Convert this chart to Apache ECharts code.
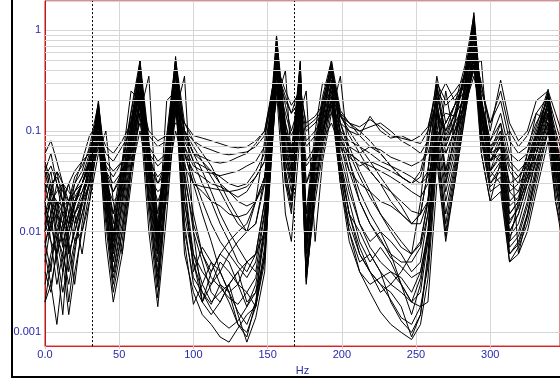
<!DOCTYPE html>
<html><head><meta charset="utf-8">
<script src="https://cdn.jsdelivr.net/npm/echarts@6/dist/echarts.min.js"></script>
<style>html,body{margin:0;padding:0;background:#fff}#c{width:560px;height:381px}</style>
</head><body><div id="c"></div>
<script>
const freqs = [0,4,8,12,16,20,25,30,36,41, 46,52,58,64,70,76,82,88,94,100, 106,112,118,124,130,136,142,148,156,162, 166,172,176,182,187,193,199,205,212,219, 226,233,240,247,253,258,264,270,276,283, 289,294,300,307,313,319,325,331,339,344, 350];

const s1 = [.012,.02,.008,.004,.01,.02,.03,.05,.2,.03, .005,.02,.09,.5,.05,.006,.06,.55,.03,.004, .007,.005,.003,.002,.0012,.0009,.002,.012,.9,.08, .04,.5,.006,.05,.15,.5,.08,.03,.012,.008, .01,.006,.003,.0015,.003,.01,.15,.04,.08,.3, 1.5,.2,.06,.05,.01,.015,.03,.08,.25,.05, .015];
const s2 = [.008,.004,.015,.03,.006,.01,.02,.04,.15,.02, .004,.015,.07,.35,.03,.004,.04,.45,.02,.006, .003,.002,.0025,.003,.0015,.0008,.0014,.004,.7,.05, .03,.3,.004,.04,.12,.4,.05,.015,.006,.004, .003,.0025,.0018,.0009,.0015,.006,.1,.02,.05,.25, 1.2,.15,.04,.03,.008,.01,.02,.06,.2,.04, .012];
const s3 = [.03,.015,.005,.0015,.008,.015,.025,.04,.12,.025, .007,.03,.12,.4,.06,.008,.07,.4,.06,.03, .015,.008,.004,.0025,.003,.005,.004,.015,.5,.06, .035,.25,.008,.06,.15,.35,.12,.07,.04,.025, .015,.01,.007,.006,.008,.02,.2,.06,.1,.25, .9,.12,.05,.08,.015,.02,.04,.09,.18,.06, .02];
const s4 = [.005,.012,.02,.008,.002,.006,.02,.05,.18,.04, .01,.04,.15,.45,.07,.01,.08,.5,.09,.05, .03,.02,.012,.008,.005,.004,.006,.02,.6,.1, .05,.35,.01,.07,.2,.45,.15,.09,.06,.04, .03,.02,.015,.012,.015,.04,.25,.08,.12,.35, 1.3,.18,.07,.1,.02,.025,.05,.1,.22,.07, .025];
const s5 = [.015,.01,.02,.012,.004,.008,.015,.03,.09,.015, .003,.01,.05,.25,.02,.003,.03,.3,.008,.0019, .003,.005,.004,.0025,.0012,.001,.0018,.006,.45,.04, .02,.2,.003,.03,.08,.3,.04,.01,.005,.006, .004,.002,.0013,.001,.0015,.005,.07,.012,.04,.18, .8,.1,.03,.04,.006,.008,.015,.04,.15,.03, .01];
const s6 = [.02,.008,.003,.006,.012,.025,.035,.06,.16,.03, .008,.025,.1,.3,.045,.007,.05,.35,.05,.015, .006,.004,.006,.005,.003,.0018,.003,.01,.55,.07, .04,.4,.007,.05,.13,.38,.1,.05,.025,.015, .01,.008,.006,.004,.005,.015,.18,.03,.07,.3, 1.0,.14,.05,.06,.012,.018,.035,.07,.2,.05, .018];
const s7 = [.04,.02,.01,.015,.02,.012,.02,.05,.17,.035, .009,.035,.11,.42,.055,.009,.06,.48,.1,.06, .04,.025,.015,.01,.007,.005,.006,.02,.75,.09, .045,.45,.009,.06,.17,.42,.14,.1,.07,.05, .035,.025,.018,.012,.015,.04,.3,.09,.15,.4, 1.1,.16,.06,.07,.015,.02,.04,.08,.23,.06, .02];
const s8 = [.01,.025,.04,.02,.008,.003,.012,.035,.1,.02, .005,.018,.08,.28,.035,.005,.035,.3,.015,.005, .0025,.0019,.003,.0025,.0016,.0012,.002,.007,.4,.05, .025,.22,.005,.035,.1,.28,.05,.02,.008,.005, .007,.005,.003,.002,.0025,.008,.08,.015,.045,.2, .7,.1,.035,.05,.009,.012,.025,.05,.14,.04, .012];
const s9 = [.006,.003,.0012,.004,.01,.018,.03,.045,.13,.025, .006,.022,.09,.33,.04,.006,.045,.38,.04,.01, .005,.0025,.002,.003,.004,.002,.0025,.009,.48,.06, .03,.28,.006,.045,.11,.32,.06,.025,.012,.007, .005,.004,.0035,.0025,.004,.01,.12,.025,.06,.22, .85,.12,.04,.055,.01,.015,.03,.06,.17,.045, .015];
const s10 = [.025,.04,.015,.007,.015,.03,.04,.07,.19,.045, .012,.045,.16,.5,.08,.012,.09,.52,.12,.08, .06,.045,.03,.02,.014,.01,.012,.03,.85,.12, .06,.48,.012,.08,.22,.5,.16,.12,.09,.07, .06,.045,.035,.03,.035,.07,.35,.12,.18,.45, 1.4,.2,.08,.12,.025,.03,.06,.11,.26,.08, .03];
const s11 = [.003,.006,.01,.005,.0015,.004,.01,.025,.08,.012, .0025,.008,.04,.2,.015,.0022,.025,.22,.006,.0025, .0015,.0012,.0009,.0008,.0011,.0015,.0018,.005,.3,.03, .015,.15,.0032,.025,.07,.22,.03,.01,.004,.0025, .0016,.0012,.001,.00085,.0012,.0034,.05,.008,.03,.15, .6,.08,.025,.03,.005,.007,.012,.03,.1,.025, .008];
const s12 = [.05,.03,.015,.01,.02,.035,.045,.065,.14,.04, .015,.05,.13,.38,.07,.015,.07,.42,.1,.07, .05,.035,.025,.017,.012,.01,.012,.035,.65,.1, .05,.38,.015,.07,.18,.36,.14,.11,.1,.08, .06,.045,.035,.03,.04,.08,.22,.1,.14,.35, 1.0,.17,.07,.09,.03,.035,.05,.09,.19,.07, .025];
const s13 = [.007,.015,.03,.015,.006,.01,.018,.03,.11,.018, .004,.012,.06,.22,.025,.0035,.03,.25,.012,.003, .002,.003,.005,.004,.003,.0025,.0018,.006,.35,.04, .02,.18,.004,.03,.09,.25,.045,.015,.007,.004, .0025,.003,.0025,.002,.0035,.008,.09,.01,.035,.17, .65,.09,.03,.045,.007,.009,.018,.045,.12,.035, .01];
const s14 = [.018,.012,.006,.0025,.005,.012,.02,.04,.14,.028, .0065,.028,.1,.36,.05,.0075,.05,.4,.035,.012, .006,.0035,.0028,.0022,.0019,.0025,.0035,.011,.55,.065, .035,.32,.0075,.05,.14,.4,.09,.04,.02,.012, .0085,.0055,.0045,.0035,.004,.009,.16,.035,.08,.28, 1.1,.14,.05,.07,.013,.017,.035,.07,.19,.05, .016];
const s15 = [.045,.025,.012,.008,.012,.02,.03,.055,.16,.035, .009,.035,.12,.44,.06,.01,.065,.46,.07,.035, .02,.012,.008,.006,.0045,.0035,.005,.016,.8,.1, .05,.42,.01,.065,.19,.46,.12,.06,.035,.022, .015,.011,.008,.006,.0075,.02,.28,.07,.13,.38, 1.2,.18,.065,.085,.018,.022,.045,.09,.24,.065, .022];
const s16 = [.002,.005,.009,.006,.003,.007,.015,.03,.1,.015, .0035,.01,.045,.18,.02,.0028,.028,.2,.01,.0035, .0025,.0017,.0013,.0011,.0013,.0018,.0025,.0055,.3,.035, .017,.16,.0035,.027,.075,.2,.035,.012,.006,.004, .003,.0021,.0014,.0012,.0018,.0045,.06,.009,.03,.14, .55,.085,.028,.035,.006,.0075,.014,.035,.11,.03, .009];
const m1 = [.002,.003,.006,.012,.02,.03,.05,.09,.12,.02, .008,.05,.25,.2,.02,.008,.2,.25,.03,.006, .004,.003,.004,.006,.008,.01,.02,.08,.5,.03, .02,.12,.015,.1,.3,.25,.04,.015,.01,.006, .004,.003,.004,.006,.02,.1,.2,.04,.12,.4, .8,.06,.02,.05,.008,.02,.06,.15,.12,.02, .008];
const m2 = [.015,.025,.04,.03,.015,.008,.01,.02,.06,.1, .02,.006,.03,.15,.35,.01,.02,.15,.35,.01, .002,.004,.006,.008,.01,.012,.02,.035,.2,.4, .05,.15,.25,.008,.05,.15,.35,.05,.02,.012, .008,.006,.005,.005,.007,.015,.05,.25,.08,.2, .45,.5,.04,.08,.1,.006,.015,.04,.1,.1, .02];
const m3 = [.035,.045,.03,.02,.012,.018,.03,.045,.09,.04, .025,.04,.07,.2,.06,.03,.05,.25,.1,.06, .05,.04,.03,.025,.02,.018,.02,.03,.3,.09, .06,.2,.03,.06,.1,.2,.08,.06,.05,.04, .03,.025,.02,.016,.015,.02,.08,.06,.1,.15, .45,.1,.04,.06,.025,.02,.03,.05,.1,.04, .015];
const m4 = [.004,.0025,.007,.02,.03,.015,.006,.02,.1,.008, .002,.006,.04,.15,.01,.0018,.015,.18,.02,.005, .002,.0015,.002,.003,.004,.005,.006,.01,.25,.015, .008,.1,.0035,.02,.06,.18,.03,.008,.004,.003, .0035,.004,.003,.002,.0018,.002,.03,.03,.1,.18, .5,.06,.02,.025,.005,.006,.01,.025,.08,.02, .006];
const h1 = [.06,.08,.05,.03,.02,.025,.035,.05,.1,.06, .05,.07,.1,.15,.09,.07,.08,.12,.1,.08, .07,.065,.06,.058,.06,.062,.07,.09,.35,.2, .15,.2,.1,.12,.15,.18,.12,.1,.09,.14, .1,.085,.09,.08,.075,.1,.3,.2,.25,.35, .6,.3,.1,.32,.12,.08,.1,.2,.25,.15, .08];
const h2 = [.02,.03,.035,.025,.02,.022,.03,.045,.09,.05, .04,.05,.08,.2,.07,.05,.06,.18,.09,.06, .055,.05,.048,.05,.055,.06,.075,.1,.45,.25, .18,.25,.12,.14,.18,.25,.15,.12,.1,.11, .12,.1,.08,.07,.06,.08,.2,.3,.2,.28, .5,.25,.12,.2,.08,.06,.07,.12,.2,.1, .05];
const h3 = [.015,.02,.025,.03,.025,.02,.025,.04,.08,.04, .03,.04,.06,.12,.05,.035,.045,.15,.07,.045, .04,.038,.036,.038,.04,.045,.05,.07,.3,.15, .09,.15,.07,.09,.11,.15,.09,.07,.06,.07, .065,.055,.05,.045,.05,.06,.12,.15,.14,.22, .45,.2,.08,.15,.06,.05,.06,.09,.15,.08, .04];
const h4 = [.01,.015,.02,.018,.02,.025,.03,.05,.12,.045, .035,.05,.08,.25,.06,.045,.055,.2,.08,.05, .045,.04,.035,.03,.028,.03,.04,.06,.5,.18, .1,.2,.08,.1,.13,.2,.1,.08,.07,.06, .05,.045,.04,.035,.03,.04,.15,.1,.18,.25, .55,.22,.06,.12,.05,.04,.05,.08,.17,.07, .035];
const h5 = [.008,.012,.015,.012,.01,.015,.022,.035,.1,.035, .025,.035,.06,.18,.045,.03,.04,.16,.06,.04, .035,.03,.028,.025,.022,.025,.035,.05,.4,.12, .07,.18,.05,.07,.1,.18,.08,.06,.05,.045, .04,.035,.03,.025,.022,.03,.1,.08,.15,.2, .4,.15,.05,.09,.04,.03,.04,.06,.12,.05, .03];
const h6 = [.012,.008,.006,.01,.015,.02,.03,.05,.14,.03, .015,.03,.07,.3,.04,.02,.035,.3,.06,.03, .025,.02,.018,.015,.014,.015,.02,.035,.6,.1, .06,.3,.03,.05,.09,.3,.07,.04,.03,.025, .02,.018,.015,.012,.012,.02,.09,.12,.18,.3, .9,.12,.05,.07,.03,.025,.035,.06,.15,.05, .02];
const h7 = [.04,.06,.03,.02,.03,.04,.05,.06,.11,.07, .06,.08,.12,.22,.1,.08,.09,.2,.12,.09, .085,.08,.075,.07,.068,.07,.08,.1,.4,.22, .15,.28,.11,.13,.16,.22,.14,.12,.11,.13, .11,.09,.085,.08,.09,.11,.25,.18,.22,.3, .7,.28,.12,.25,.1,.07,.09,.15,.22,.12, .06];
const h8 = [.03,.025,.02,.015,.012,.015,.02,.03,.07,.03, .02,.025,.04,.1,.035,.025,.03,.1,.045,.03, .028,.027,.026,.025,.026,.028,.035,.05,.25,.1, .06,.12,.045,.06,.08,.12,.07,.055,.045,.05, .045,.04,.035,.03,.03,.035,.08,.07,.12,.18, .35,.15,.06,.1,.045,.035,.045,.07,.12,.06, .03];

const markerFreqs = [32, 168];
const xTickLabels = ['0.0','50','100','150','200','250','300'];
const yTickLabels = ['0.001','0.01','0.1','1'];
const minorGridValues = [0.0008,0.0009, 0.002,0.003,0.004,0.005,0.006,0.007,0.008,0.009, 0.02,0.03,0.04,0.05,0.06,0.07,0.08,0.09, 0.2,0.3,0.4,0.5,0.6,0.7,0.8,0.9];

const curves = [s1,s2,s3,s4,s5,s6,s7,s8,s9,s10,s11,s12,s13,s14,s15,s16,m1,m2,m3,m4,h1,h2,h3,h4,h5,h6,h7,h8];

const chart = echarts.init(document.getElementById('c'), null, {renderer:'canvas'});
const labelFont = {color:'#2828a8', fontSize:11, fontFamily:'"Liberation Sans", Arial, sans-serif'};

const series = curves.map((vals, i) => ({
  type:'line', data: freqs.map((f, k) => [f, vals[k]]),
  showSymbol:false, symbol:'none', animation:false, silent:true,
  lineStyle:{color:'#000', width:1}, z:3
}));
series.push({
  type:'line', data:[], z:2, silent:true, animation:false,
  markLine:{symbol:'none', silent:true, animation:false, label:{show:false},
    lineStyle:{color:'#d6d6d6', width:1, type:'solid'},
    data: minorGridValues.map(v => ({yAxis:v}))}
});
series.push({
  type:'line', data:[], z:5, silent:true, animation:false,
  markLine:{symbol:'none', silent:true, animation:false, label:{show:false},
    lineStyle:{color:'#000', width:1, type:[2,2]},
    data: markerFreqs.map(v => ({xAxis:v}))}
});

chart.setOption({
  backgroundColor:'#fff',
  animation:false,
  grid:{left:45, top:1, width:518, height:353, show:true, borderColor:'#c01818', borderWidth:1, backgroundColor:'transparent'},
  xAxis:{type:'value', min:0, max:347, interval:50,
    name:'Hz', nameLocation:'middle', nameGap:13, nameTextStyle:labelFont,
    axisLine:{show:true, lineStyle:{color:'#e02020', width:1}},
    axisTick:{show:true, length:3, lineStyle:{color:'#cccccc'}},
    axisLabel:Object.assign({margin:3, showMaxLabel:false,
      formatter: v => { const i = Math.round(v/50); return (Math.abs(v - i*50) < 1e-6 && xTickLabels[i] !== undefined) ? xTickLabels[i] : ''; }}, labelFont),
    splitLine:{show:true, lineStyle:{color:'#d6d6d6', width:1}}
  },
  yAxis:{type:'log', logBase:10, min:0.000731, max:1.955,
    axisLine:{show:true, lineStyle:{color:'#c01818'}},
    axisTick:{show:false},
    axisLabel:Object.assign({margin:4, showMinLabel:false, showMaxLabel:false,
      formatter: v => { const e = Math.log10(v); const r = Math.round(e); return Math.abs(e - r) < 1e-6 && yTickLabels[r+3] !== undefined ? yTickLabels[r+3] : ''; }}, labelFont),
    splitLine:{show:true, lineStyle:{color:'#d6d6d6', width:1}}
  },
  graphic:[{type:'rect', silent:true, z:100,
    shape:{x:12, y:-5, width:620, height:382},
    style:{fill:null, stroke:'#000', lineWidth:2}}],
  series: series
});
</script></body></html>
